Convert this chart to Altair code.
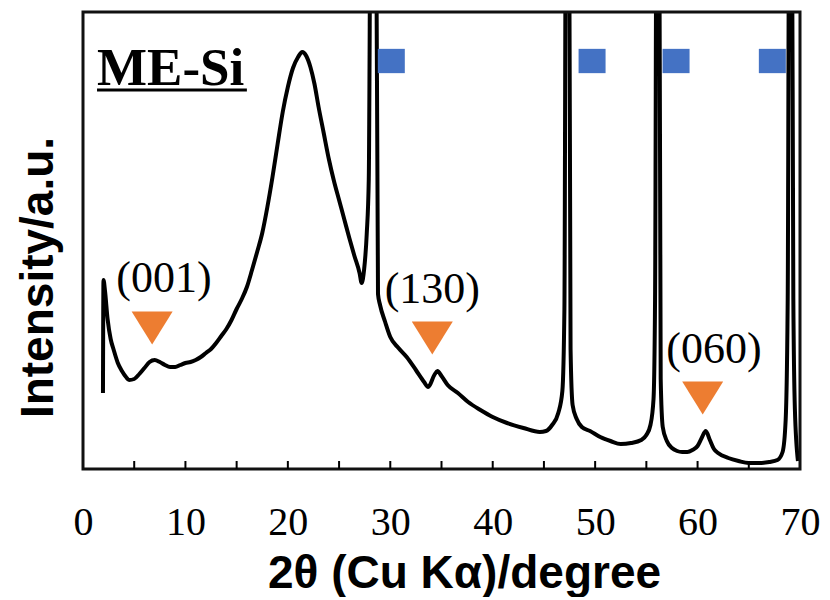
import altair as alt
import pandas as pd

two_theta = [1.95, 2.0, 2.15, 2.4, 2.7, 3.0, 3.4, 3.8, 4.2, 4.5, 5.0, 5.5, 6.0, 6.5, 7.0, 7.5,
             8.0, 8.5, 9.0, 9.5, 10.0, 10.5, 11.0, 11.5, 12.0, 12.5, 13.0, 13.5, 14.0, 14.5,
             15.0, 15.5, 16.0, 16.5, 17.0, 17.5, 18.0, 18.5, 19.0, 19.5, 20.0, 20.5, 21.0,
             21.4, 21.8, 22.2, 22.6, 23.0, 23.5, 24.0, 24.5, 25.0, 25.5, 26.0, 26.5, 27.0,
             27.2, 27.45, 27.7, 27.9, 28.1, 28.6, 28.8, 29.0, 29.5, 30.0, 30.8, 31.6, 32.5,
             33.3, 33.7, 34.3, 34.6, 35.0, 35.6, 36.6, 37.6, 38.8, 40.0, 41.4, 43.0, 44.6,
             45.2, 45.8, 46.4, 46.8, 47.0, 47.15, 47.45, 47.6, 47.8, 48.2, 48.7, 49.5, 50.5,
             51.5, 52.5, 53.5, 54.5, 55.0, 55.4, 55.7, 55.85, 56.0, 56.25, 56.4, 56.6, 57.0,
             57.5, 58.0, 58.5, 59.0, 59.5, 60.0, 60.4, 60.8, 61.2, 61.6, 62.0, 63.0, 64.0,
             65.0, 66.0, 67.0, 67.8, 68.3, 68.6, 68.8, 68.95, 69.2, 69.35, 69.5, 69.8]
intensity = [76, 189, 178, 150, 130, 119, 106, 98, 92, 89, 90, 95, 101, 107, 109, 107,
             104, 102, 102, 104, 106, 107, 109, 112, 116, 120, 126, 133, 140, 149,
             160, 170, 182, 199, 217, 236, 262, 292, 325, 357, 382, 401, 412,
             417, 413, 402, 385, 362, 336, 310, 288, 269, 250, 231, 213, 196,
             186, 200, 235, 290, 600, 600, 175, 164, 147, 132, 121, 112, 99,
             87, 82, 94, 98, 93, 84, 76, 67, 59, 52, 46, 41, 37,
             38, 44, 56, 78, 160, 600, 600, 120, 64, 50, 42, 38, 32,
             28, 25, 26, 29, 34, 44, 70, 170, 600, 600, 90, 42, 28,
             21, 18, 17, 17, 19, 23, 31, 38, 29, 20, 16, 11, 8,
             6, 6, 7, 9, 17, 49, 170, 600, 600, 170, 60, 8]

tick_positions = [5, 10, 15, 20, 25, 30, 35, 40, 45, 50, 55, 60, 65]
label_values = [0, 10, 20, 30, 40, 50, 60, 70]

peak_labels = ["(001)", "(130)", "(060)"]
peak_label_x = [7.9, 34.1, 61.6]
peak_label_y = [177, 166, 106]
triangle_x = [6.75, 34.1, 60.5]
triangle_y = [141, 131, 71]

si_square_x = [30.1, 49.7, 57.9, 67.3]
si_square_y = [408, 408, 408, 408]

sample_name = ["ME-Si"]
sample_x = [1.37]
sample_y = [384]
underline_x = [1.37]
underline_x2 = [16.0]
underline_y = [379]

# plot frame edges (data coordinates of the plot area box)
frame_x = [0, 70]
frame_y = [0, 457]

W, H = 717, 457
xs = alt.Scale(domain=[0, 70], nice=False, zero=False)
ys = alt.Scale(domain=[0, 457], nice=False, zero=False)

curve = pd.DataFrame({"x": two_theta, "y": intensity})
ticks = pd.DataFrame({"x": tick_positions})
labels = pd.DataFrame({"x": peak_label_x, "y": peak_label_y, "t": peak_labels})
tris = pd.DataFrame({"x": triangle_x, "y": triangle_y})
squares = pd.DataFrame({"x": si_square_x, "y": si_square_y})
name = pd.DataFrame({"x": sample_x, "y": sample_y, "t": sample_name})
uline = pd.DataFrame({"x": underline_x, "x2": underline_x2, "y": underline_y})
box = pd.DataFrame({"x": [frame_x[0]], "x2": [frame_x[1]], "y": [frame_y[0]], "y2": [frame_y[1]]})

x_axis = alt.Axis(
    values=label_values, title="2θ (Cu Kα)/degree", grid=False, ticks=False, tickSize=0,
    domain=False, labelFont="Liberation Serif", labelFontSize=40, labelColor="black",
    labelPadding=33, labelFlush=False, titleFont="Liberation Sans", titleFontSize=46,
    titleFontWeight="bold", titleColor="black", titleX=381, titleY=118,
    titleBaseline="alphabetic", titleAlign="center",
)
y_axis = alt.Axis(
    title="Intensity/a.u.", labels=False, ticks=False, domain=False, grid=False,
    titleFont="Liberation Sans", titleFontSize=46, titleFontWeight="bold", titleColor="black",
    titleAngle=270, titleX=-45, titleY=265, titleAlign="center", titleBaseline="middle",
)

line = alt.Chart(curve).mark_line(
    color="black", strokeWidth=4, clip=True, interpolate="monotone"
).encode(
    x=alt.X("x:Q", scale=xs, axis=x_axis),
    y=alt.Y("y:Q", scale=ys, axis=y_axis),
    order="x:Q",
)

frame = alt.Chart(box).mark_rect(
    filled=False, stroke="#111111", strokeWidth=3
).encode(
    x=alt.X("x:Q", scale=xs), x2="x2:Q",
    y=alt.Y("y:Q", scale=ys), y2="y2:Q",
)

tick_marks = alt.Chart(ticks).mark_rule(color="black", strokeWidth=2).encode(
    x=alt.X("x:Q", scale=xs), y=alt.value(H), y2=alt.value(H - 8)
)

triangles = alt.Chart(tris).mark_point(
    shape="M-1,-0.8L1,-0.8L0,0.8Z", filled=True, opacity=1, color="#ED7D31", size=1681
).encode(x=alt.X("x:Q", scale=xs), y=alt.Y("y:Q", scale=ys))

sq = alt.Chart(squares).mark_point(
    shape="M-1,-0.9L1,-0.9L1,0.9L-1,0.9Z", filled=True, opacity=1, color="#4472C4", size=729
).encode(x=alt.X("x:Q", scale=xs), y=alt.Y("y:Q", scale=ys))

peak_text = alt.Chart(labels).mark_text(
    font="Liberation Serif", fontSize=44, color="black", align="center", baseline="alphabetic"
).encode(x=alt.X("x:Q", scale=xs), y=alt.Y("y:Q", scale=ys), text="t:N")

name_text = alt.Chart(name).mark_text(
    font="Liberation Serif", fontSize=53, fontWeight="bold", color="black",
    align="left", baseline="alphabetic"
).encode(x=alt.X("x:Q", scale=xs), y=alt.Y("y:Q", scale=ys), text="t:N")

underline = alt.Chart(uline).mark_rule(color="black", strokeWidth=3).encode(
    x=alt.X("x:Q", scale=xs), x2="x2:Q", y=alt.Y("y:Q", scale=ys)
)

chart = alt.layer(line, frame, tick_marks, triangles, sq, peak_text, name_text, underline).properties(
    width=W, height=H,
    padding={"left": 75, "top": 4, "right": 20, "bottom": 128},
    autosize=alt.AutoSizeParams(type="none"),
    background="white",
).configure_view(stroke="black", strokeWidth=2)

chart.save("out.html", embed_options={"renderer": "svg", "actions": False})
